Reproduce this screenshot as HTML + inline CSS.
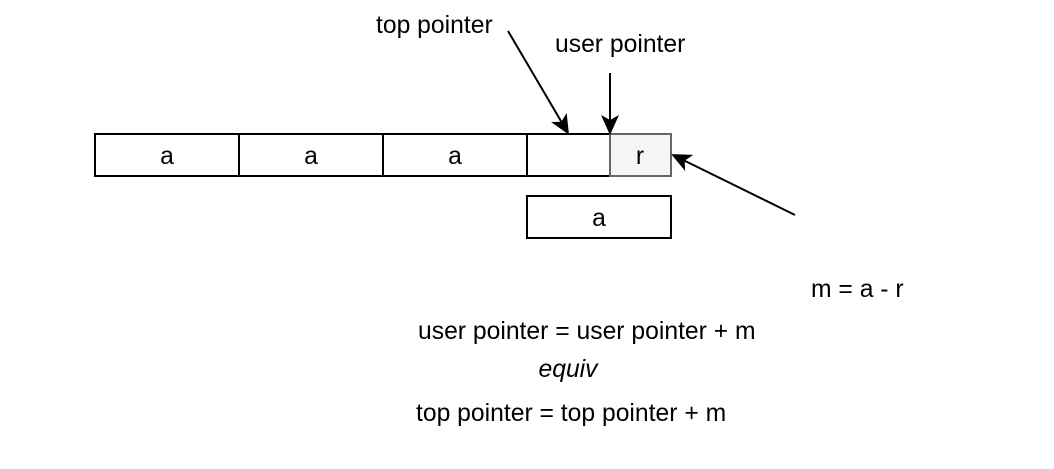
<!DOCTYPE html>
<html><head><style>
body{margin:0;background:#fff;}
svg text{font-family:"Liberation Sans",Arial,sans-serif;font-size:24.7px;fill:#000;}
</style></head><body>
<svg width="1054" height="464" xmlns="http://www.w3.org/2000/svg">
<defs><marker id="ah" markerWidth="20" markerHeight="18" refX="18" refY="9" orient="auto" markerUnits="userSpaceOnUse"><path d="M0,0 L20,9 L0,18 L5,9 Z" fill="#000"/></marker></defs>
<g stroke="#000" stroke-width="2" fill="#fff">
<rect x="95" y="134" width="144" height="42"/>
<rect x="239" y="134" width="144" height="42"/>
<rect x="383" y="134" width="144" height="42"/>
<rect x="527" y="134" width="83" height="42"/>
<rect x="527" y="196" width="144" height="42"/>
</g>
<rect x="610" y="134" width="61" height="42" fill="#f5f5f5" stroke="#666" stroke-width="2"/>
<text x="167" y="164" text-anchor="middle">a</text>
<text x="311" y="164" text-anchor="middle">a</text>
<text x="455" y="164" text-anchor="middle">a</text>
<text x="640" y="164" text-anchor="middle" fill="#333">r</text>
<text x="599" y="226" text-anchor="middle">a</text>
<g stroke="#000" stroke-width="2">
<line x1="508" y1="31" x2="568" y2="133" marker-end="url(#ah)"/>
<line x1="610" y1="73" x2="610" y2="133" marker-end="url(#ah)"/>
<line x1="795" y1="215" x2="673" y2="155" marker-end="url(#ah)"/>
</g>
<text x="376" y="33">top pointer</text>
<text x="555" y="52">user pointer</text>
<text x="811" y="297">m = a - r</text>
<text x="418" y="339">user pointer = user pointer + m</text>
<text x="568" y="377" text-anchor="middle" font-style="italic">equiv</text>
<text x="416" y="421">top pointer = top pointer + m</text>
</svg>
</body></html>
